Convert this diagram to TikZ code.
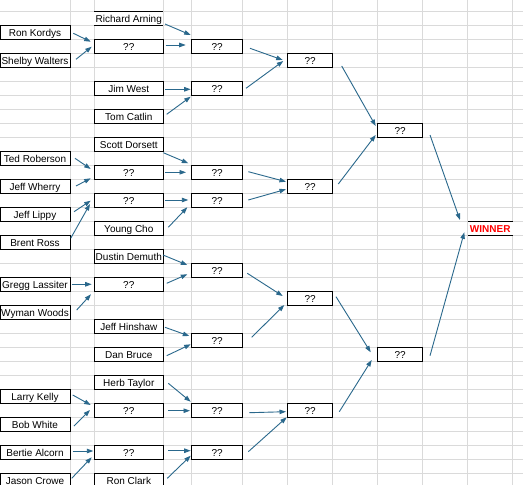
\documentclass[tikz,border=0pt]{standalone}
\usepackage{fontspec}
\setmainfont{Liberation Sans}
\usetikzlibrary{arrows.meta,calc}
\definecolor{gridc}{RGB}{218,218,218}
\definecolor{arrc}{RGB}{42,104,140}
\definecolor{winred}{RGB}{255,0,0}
\newcommand\conn[6]{\draw[arr] ($(#1.east)+(#2,#3)$) -- ($(#4.west)+(#5,#6)$);}
\begin{document}
\begin{tikzpicture}[x=1bp,y=-1bp,
  cellbox/.style={draw=black,line width=0.9bp,fill=white,inner sep=0pt,outer sep=0pt,
    minimum height=14bp,text height=7.2bp,text depth=0pt,font=\fontsize{10bp}{12bp}\selectfont},
  colA/.style={cellbox,minimum width=70bp},
  colC/.style={cellbox,minimum width=69bp},
  colE/.style={cellbox,minimum width=51bp},
  colG/.style={cellbox,minimum width=45bp},
  colI/.style={cellbox,minimum width=45bp},
  openbox/.style={draw=none},
  rule/.style={draw=black,line width=0.9bp},
  gridline/.style={draw=gridc,line width=1bp},
  arr/.style={draw=arrc,line width=0.9bp,-{Triangle[length=6.5bp,width=4.5bp]}}
]
\useasboundingbox[fill=white] (0,0) rectangle (523,485);
% spreadsheet grid
\foreach \x in {70,94.3,163.3,191.7,242.7,287.7,332.7,377.7,422.7,467.7,512.7}
  \draw[gridline] (\x,0) -- (\x,485);
\foreach \k in {0,...,33}
  \draw[gridline] (0,{11.7+14*\k}) -- (523,{11.7+14*\k});

% column A : first-round players
\node[colA] (rk)  at (35,32.7)  {Ron Kordys};
\node[colA] (sw)  at (35,60.7)  {Shelby Walters};
\node[colA] (tr)  at (35,158.7) {Ted Roberson};
\node[colA] (jwh) at (35,186.7) {Jeff Wherry};
\node[colA] (jl)  at (35,214.7) {Jeff Lippy};
\node[colA] (br)  at (35,242.7) {Brent Ross};
\node[colA] (gl)  at (35,284.7) {Gregg Lassiter};
\node[colA] (ww)  at (35,312.7) {Wyman Woods};
\node[colA] (lk)  at (35,396.7) {Larry Kelly};
\node[colA] (bw)  at (35,424.7) {Bob White};
\node[colA] (ba)  at (35,452.7) {Bertie Alcorn};
\node[colA] (jc)  at (35,480.7) {Jason Crowe};

% column C
\node[colC,openbox] (ra) at (128.8,18.7) {Richard Arning};
\draw[rule] (ra.north west) -- (ra.north east);
\draw[rule] (ra.south west) -- (ra.south east);
\node[colC] (c3)  at (128.8,46.7)  {??};
\node[colC] (jw)  at (128.8,88.7)  {Jim West};
\node[colC] (tc)  at (128.8,116.7) {Tom Catlin};
\node[colC] (sd)  at (128.8,144.7) {Scott Dorsett};
\node[colC] (c12) at (128.8,172.7) {??};
\node[colC] (c14) at (128.8,200.7) {??};
\node[colC] (yc)  at (128.8,228.7) {Young Cho};
\node[colC] (dd)  at (128.8,256.7) {Dustin Demuth};
\node[colC] (c20) at (128.8,284.7) {??};
\node[colC] (jh)  at (128.8,326.7) {Jeff Hinshaw};
\node[colC] (db)  at (128.8,354.7) {Dan Bruce};
\node[colC] (ht)  at (128.8,382.7) {Herb Taylor};
\node[colC] (c29) at (128.8,410.7) {??};
\node[colC] (c32) at (128.8,452.7) {??};
\node[colC] (rc)  at (128.8,480.7) {Ron Clark};

% column E
\node[colE] (e3)  at (217.2,46.7)  {??};
\node[colE] (e6)  at (217.2,88.7)  {??};
\node[colE] (e12) at (217.2,172.7) {??};
\node[colE] (e14) at (217.2,200.7) {??};
\node[colE] (e19) at (217.2,270.7) {??};
\node[colE] (e24) at (217.2,340.7) {??};
\node[colE] (e29) at (217.2,410.7) {??};
\node[colE] (e32) at (217.2,452.7) {??};

% column G
\node[colG] (g4)  at (310.2,60.7)  {??};
\node[colG] (g13) at (310.2,186.7) {??};
\node[colG] (g21) at (310.2,298.7) {??};
\node[colG] (g29) at (310.2,410.7) {??};

% column I
\node[colI] (i9)  at (400.2,130.7) {??};
\node[colI] (i25) at (400.2,354.7) {??};

% winner
\node[colI,openbox,text=winred,font=\fontsize{10bp}{12bp}\selectfont\bfseries] (win) at (490.2,228.7) {WINNER};
\draw[rule] (win.north west) -- (win.north east);
\draw[rule] (win.south west) -- (win.south east);

% connectors: column A -> column C
\conn{rk}{3.3}{0.6}{c3}{-3.6}{-5}
\conn{sw}{6}{-1.4}{c3}{-2.6}{0}
\conn{tr}{5}{-0.4}{c12}{-3.6}{-3.7}
\conn{jwh}{6}{-0.7}{c12}{-3.6}{5.6}
\conn{jl}{4}{-3}{c14}{-3.6}{0}
\conn{br}{0.7}{-4.4}{c14}{-4.3}{3.3}
\conn{gl}{1.7}{-0.4}{c20}{-2.6}{-0.4}
\conn{ww}{6.7}{-2.7}{c20}{-3.3}{9.6}
\conn{lk}{2.7}{-1.7}{c29}{-3.6}{-5.7}
\conn{bw}{4}{1.3}{c29}{-4.3}{-0.7}
\conn{ba}{2.7}{-1.7}{c32}{-1}{-1.7}
\conn{jc}{1.7}{-2.4}{c32}{-2.6}{4.6}

% column C -> column E
\conn{ra}{1.7}{5.3}{e3}{-1}{-11.7}
\conn{c3}{2.4}{-1.7}{e3}{-6}{-1.7}
\conn{jw}{1.7}{0.6}{e6}{-1}{0.6}
\conn{tc}{3.4}{-2.4}{e6}{-1}{8}
\conn{sd}{0}{8}{e12}{-3.4}{-9.4}
\conn{c12}{1.7}{-0.4}{e12}{-5.7}{-0.4}
\conn{c14}{1.7}{-0.7}{e14}{-3.4}{-0.7}
\conn{yc}{5}{-1.4}{e14}{-4.4}{6.6}
\conn{dd}{-0.3}{-1.7}{e19}{-4.4}{-5.7}
\conn{c20}{3.4}{-1.4}{e19}{-4.4}{3.6}
\conn{jh}{1.7}{0.6}{e24}{-2.4}{-4.7}
\conn{db}{3.4}{1}{e24}{-1}{3.6}
\conn{ht}{5}{0.6}{e29}{-1}{-9}
\conn{c29}{5}{0}{e29}{-1.7}{0}
\conn{c32}{5}{-2}{e32}{-1}{-2}
\conn{rc}{4}{-2.4}{e32}{-1}{3}

% column E -> column G
\conn{e3}{7.3}{1.6}{g4}{-5}{-0.7}
\conn{e6}{3.3}{-0.4}{g4}{-4.4}{0.3}
\conn{e12}{5.6}{-1}{g13}{-1.7}{-5}
\conn{e14}{5.6}{-0.7}{g13}{-1.7}{2.6}
\conn{e19}{4.6}{2.6}{g21}{-5}{-2.7}
\conn{e24}{9}{-3.4}{g21}{-3.4}{6.3}
\conn{e29}{6.6}{2}{g29}{-1.7}{1}
\conn{e32}{5.6}{-1}{g29}{-1}{6.6}

% column G -> column I
\conn{g4}{9}{5.3}{i9}{-2}{-4.7}
\conn{g13}{5.6}{-2.7}{i9}{-2}{4.3}
\conn{g21}{3.3}{-2}{i25}{-7}{-2.4}
\conn{g29}{6.6}{1}{i25}{-6}{5.3}

% column I -> winner
\conn{i9}{7.3}{4.3}{win}{-7.7}{-8.7}
\conn{i25}{7.3}{1}{win}{-3.4}{3.6}
\end{tikzpicture}
\end{document}
